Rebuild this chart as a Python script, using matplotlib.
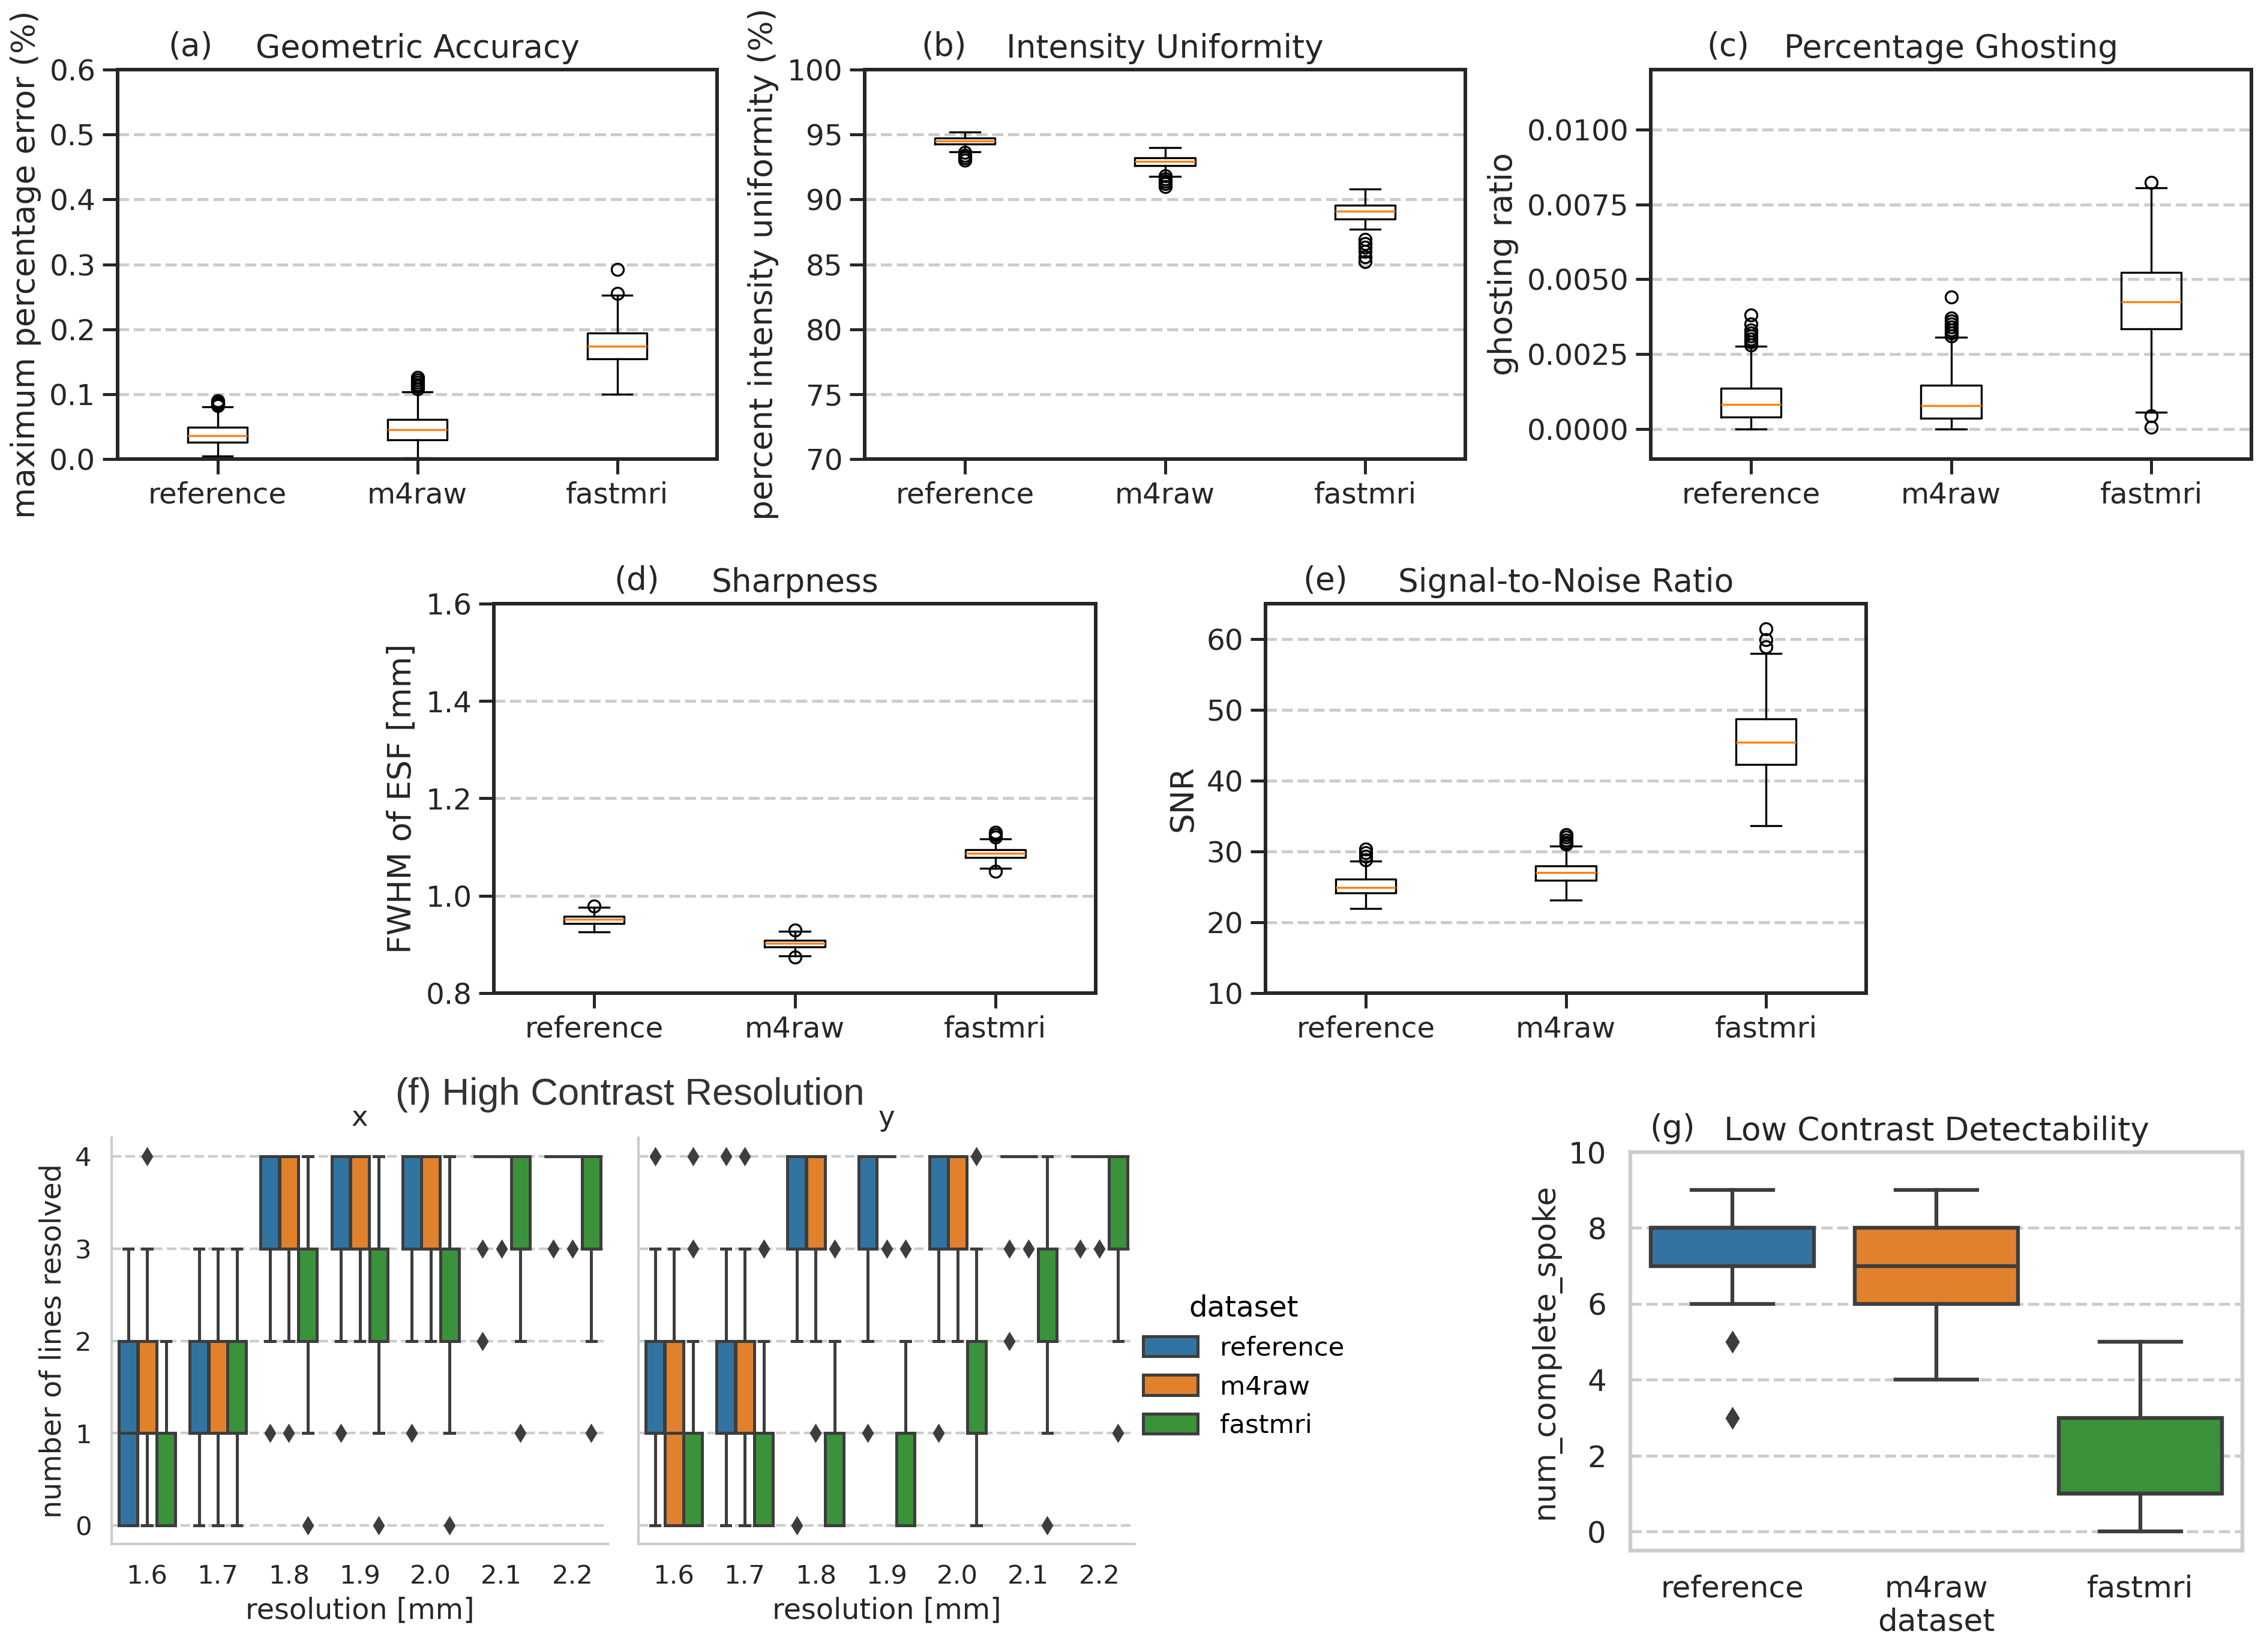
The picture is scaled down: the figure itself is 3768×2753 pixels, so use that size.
import numpy as np
import matplotlib.pyplot as plt
from matplotlib.patches import Patch
from matplotlib.ticker import FormatStrFormatter

W, H, DPI = 3768, 2753, 240

datasets = ["reference", "m4raw", "fastmri"]
colors = ["#3274a1", "#e1812c", "#3a923a"]
resolutions = ["1.6", "1.7", "1.8", "1.9", "2.0", "2.1", "2.2"]

# box stats as (q1, median, q3, whisker low, whisker high), one per dataset
geo_stats = [(0.0255, 0.0356, 0.049, 0.005, 0.080), (0.030, 0.045, 0.061, 0.002, 0.1035), (0.154, 0.174, 0.194, 0.100, 0.252)]
geo_fliers = [[0.082, 0.084, 0.086, 0.088, 0.090], [0.108, 0.112, 0.115, 0.118, 0.122, 0.126], [0.255, 0.292]]

iu_stats = [(94.27, 94.48, 94.72, 93.69, 95.2), (92.6, 92.94, 93.21, 91.75, 94.0), (88.49, 89.07, 89.55, 87.72, 90.82)]
iu_fliers = [[93.0, 93.2, 93.4, 93.6], [91.0, 91.2, 91.4, 91.6, 91.8], [85.2, 85.6, 86.0, 86.3, 86.6, 86.9]]

gh_stats = [(0.00041, 0.00082, 0.00137, 0.0, 0.00277), (0.00036, 0.00078, 0.00146, 0.0, 0.00307), (0.00335, 0.00425, 0.00523, 0.00056, 0.00806)]
gh_fliers = [[0.0028, 0.0029, 0.0030, 0.0031, 0.0032, 0.0033, 0.0035, 0.0038],
             [0.0031, 0.0032, 0.0033, 0.0034, 0.0035, 0.0036, 0.0037, 0.0044],
             [0.00823, 0.00045, 0.00007]]

sh_stats = [(0.9436, 0.9516, 0.958, 0.9255, 0.976), (0.8948, 0.902, 0.908, 0.8768, 0.9269), (1.079, 1.087, 1.095, 1.057, 1.117)]
sh_fliers = [[0.979], [0.930, 0.8735], [1.121, 1.126, 1.130, 1.050]]

snr_stats = [(24.13, 24.91, 26.06, 21.97, 28.62), (25.92, 27.02, 27.98, 23.17, 30.73), (42.25, 45.41, 48.76, 33.62, 57.98)]
snr_fliers = [[28.8, 29.3, 29.8, 30.3], [31.0, 31.3, 31.6, 32.0, 32.4], [58.9, 59.9, 61.4]]

# high contrast resolution, per resolution 1.6 ... 2.2
hcr_x_ref = [(0, 1, 2, 0, 3), (1, 1, 2, 0, 3), (3, 4, 4, 2, 4), (3, 4, 4, 2, 4), (3, 4, 4, 2, 4), (4, 4, 4, 4, 4), (4, 4, 4, 4, 4)]
hcr_x_ref_fl = [[], [], [1], [1], [1], [2, 3], [3]]
hcr_x_m4raw = [(1, 1, 2, 0, 3), (1, 1, 2, 0, 3), (3, 4, 4, 2, 4), (3, 4, 4, 2, 4), (3, 4, 4, 2, 4), (4, 4, 4, 4, 4), (4, 4, 4, 4, 4)]
hcr_x_m4raw_fl = [[4], [], [1], [], [], [3], [3]]
hcr_x_fastmri = [(0, 1, 1, 0, 2), (1, 1, 2, 0, 3), (2, 3, 3, 1, 4), (2, 3, 3, 1, 4), (2, 3, 3, 1, 4), (3, 4, 4, 2, 4), (3, 4, 4, 2, 4)]
hcr_x_fastmri_fl = [[], [], [0], [0], [0], [1], [1]]

hcr_y_ref = [(1, 1, 2, 0, 3), (1, 1, 2, 0, 3), (3, 4, 4, 2, 4), (3, 4, 4, 2, 4), (3, 4, 4, 2, 4), (4, 4, 4, 4, 4), (4, 4, 4, 4, 4)]
hcr_y_ref_fl = [[4], [4], [0], [1], [1], [2, 3], [3]]
hcr_y_m4raw = [(0, 1, 2, 0, 3), (1, 1, 2, 0, 3), (3, 4, 4, 2, 4), (4, 4, 4, 4, 4), (3, 4, 4, 2, 4), (4, 4, 4, 4, 4), (4, 4, 4, 4, 4)]
hcr_y_m4raw_fl = [[], [4], [1], [3], [], [3], [3]]
hcr_y_fastmri = [(0, 1, 1, 0, 2), (0, 1, 1, 0, 2), (0, 1, 1, 0, 2), (0, 1, 1, 0, 2), (1, 2, 2, 0, 3), (2, 3, 3, 1, 4), (3, 4, 4, 2, 4)]
hcr_y_fastmri_fl = [[3, 4], [3], [3], [3], [4], [0], [1]]

lcd_stats = [(7, 8, 8, 6, 9), (6, 7, 8, 4, 9), (1, 1, 3, 0, 5)]
lcd_fliers = [[5, 3], [], []]

TXT = "#262626"
GRAY = "#3d3d3d"
LIGHT = "#cccccc"


def to_stats(stats, fliers):
    return [dict(q1=s[0], med=s[1], q3=s[2], whislo=s[3], whishi=s[4], fliers=f)
            for s, f in zip(stats, fliers)]


def px_rect(left, top, right, bottom):
    return [left / W, 1 - bottom / H, (right - left) / W, (bottom - top) / H]


fig = plt.figure(figsize=(W / DPI, H / DPI), dpi=DPI)


def classic_panel(rect, stats, fliers, ylim, yticks, ylabel, title, letter, letter_x, fmt=None):
    ax = fig.add_axes(rect)
    ax.bxp(to_stats(stats, fliers), positions=[1, 2, 3], widths=0.3,
           flierprops=dict(marker="o", markerfacecolor="none", markeredgecolor="k", markersize=6),
           medianprops=dict(color="#ff7f0e"))
    ax.set_xlim(0.5, 3.5)
    ax.set_ylim(ylim)
    ax.set_yticks(yticks)
    if fmt:
        ax.yaxis.set_major_formatter(FormatStrFormatter(fmt))
    ax.set_xticks([1, 2, 3], datasets)
    ax.yaxis.grid(True, ls="--", color=LIGHT, lw=1.5)
    ax.set_axisbelow(True)
    for sp in ax.spines.values():
        sp.set_linewidth(1.8)
        sp.set_color(TXT)
    ax.tick_params(length=7.5, width=1.5, labelsize=14.5, colors=TXT)
    ax.set_ylabel(ylabel, fontsize=16, color=TXT)
    ax.set_title(title, fontsize=16, color=TXT)
    ax.text(letter_x, 1.036, letter, transform=ax.transAxes, ha="center", va="baseline",
            fontsize=16, color=TXT)
    return ax


classic_panel(px_rect(196, 116, 1195, 765), geo_stats, geo_fliers, (0, 0.6), np.arange(0, 0.61, 0.1),
              "maximum percentage error (%)", "Geometric Accuracy", "(a)", 0.122, "%.1f")
classic_panel(px_rect(1441, 116, 2442, 765), iu_stats, iu_fliers, (70, 100), np.arange(70, 101, 5),
              "percent intensity uniformity (%)", "Intensity Uniformity", "(b)", 0.132)
classic_panel(px_rect(2751, 116, 3752, 765), gh_stats, gh_fliers, (-0.001, 0.012), np.arange(0, 0.0101, 0.0025),
              "ghosting ratio", "Percentage Ghosting", "(c)", 0.129, "%.4f")
classic_panel(px_rect(823, 1006, 1826, 1655), sh_stats, sh_fliers, (0.8, 1.6), np.arange(0.8, 1.61, 0.2),
              "FWHM of ESF [mm]", "Sharpness", "(d)", 0.237, "%.1f")
classic_panel(px_rect(2109, 1006, 3110, 1655), snr_stats, snr_fliers, (10, 65), np.arange(10, 61, 10),
              "SNR", "Signal-to-Noise Ratio", "(e)", 0.10)


def hcr_panel(rect, groups, title, first):
    ax = fig.add_axes(rect)
    for h, ((stats, fl), color) in enumerate(zip(groups, colors)):
        pos = np.arange(len(resolutions)) + (h - 1) * 0.8 / 3
        ax.bxp(to_stats(stats, fl), positions=pos, widths=0.8 / 3 * 0.98, patch_artist=True,
               boxprops=dict(facecolor=color, edgecolor=GRAY, lw=1.5),
               whiskerprops=dict(color=GRAY, lw=1.5), capprops=dict(color=GRAY, lw=1.5),
               medianprops=dict(color=GRAY, lw=1.5),
               flierprops=dict(marker="d", markerfacecolor=GRAY, markeredgecolor=GRAY, markersize=5.5),
               manage_ticks=False)
    ax.set_xlim(-0.5, len(resolutions) - 0.5)
    ax.set_ylim(-0.2, 4.2)
    ax.set_xticks(range(len(resolutions)), resolutions)
    ax.set_yticks(range(5))
    ax.yaxis.grid(True, ls="--", color=LIGHT, lw=1.3)
    ax.set_axisbelow(True)
    for k in ("top", "right"):
        ax.spines[k].set_visible(False)
    for k in ("left", "bottom"):
        ax.spines[k].set_color(LIGHT)
        ax.spines[k].set_linewidth(1.3)
    ax.tick_params(length=0, pad=10, labelsize=13, colors=TXT)
    ax.set_xlabel("resolution [mm]", fontsize=14.3, color=TXT, labelpad=3.5)
    ax.set_title(title, fontsize=14, color=TXT)
    if first:
        ax.set_ylabel("number of lines resolved", fontsize=14.3, color=TXT)
    else:
        ax.tick_params(labelleft=False)
    return ax


hcr_panel(px_rect(186, 1896, 1013, 2573),
          [(hcr_x_ref, hcr_x_ref_fl), (hcr_x_m4raw, hcr_x_m4raw_fl), (hcr_x_fastmri, hcr_x_fastmri_fl)], "x", True)
hcr_panel(px_rect(1064, 1896, 1891, 2573),
          [(hcr_y_ref, hcr_y_ref_fl), (hcr_y_m4raw, hcr_y_m4raw_fl), (hcr_y_fastmri, hcr_y_fastmri_fl)], "y", False)
fig.text(1050 / W, 1 - 1824 / H, "(f) High Contrast Resolution", ha="center", va="center",
         fontsize=19, family=["Liberation Sans", "DejaVu Sans"], color="#333333")

handles = [Patch(facecolor=c, edgecolor=GRAY, lw=1.5) for c in colors]
fig.legend(handles, datasets, title="dataset", frameon=False, fontsize=13, title_fontsize=14.5,
           loc="upper left", bbox_to_anchor=(1905 / W, 1 - 2156 / H), borderpad=0, borderaxespad=0,
           handlelength=2.1, handleheight=0.8, handletextpad=0.85, labelspacing=0.52)

# (g) low contrast detectability
ax = fig.add_axes(px_rect(2717, 1920, 3737, 2584))
for i, (s, color) in enumerate(zip(to_stats(lcd_stats, lcd_fliers), colors)):
    ax.bxp([s], positions=[i], widths=0.8, patch_artist=True,
           boxprops=dict(facecolor=color, edgecolor=GRAY, lw=1.9),
           whiskerprops=dict(color=GRAY, lw=1.9), capprops=dict(color=GRAY, lw=1.9),
           medianprops=dict(color=GRAY, lw=1.9),
           flierprops=dict(marker="d", markerfacecolor=GRAY, markeredgecolor=GRAY, markersize=7),
           manage_ticks=False)
ax.set_xlim(-0.5, 2.5)
ax.set_ylim(-0.5, 10)
ax.set_xticks(range(3), datasets)
ax.set_yticks(range(0, 11, 2))
ax.yaxis.grid(True, ls="--", color=LIGHT, lw=1.5)
ax.set_axisbelow(True)
for sp in ax.spines.values():
    sp.set_color(LIGHT)
    sp.set_linewidth(1.9)
ax.tick_params(length=0, pad=12, labelsize=15, colors=TXT)
ax.set_xlabel("dataset", fontsize=15.5, color=TXT, labelpad=2)
ax.set_ylabel("num_complete_spoke", fontsize=15.5, color=TXT)
ax.set_title("Low Contrast Detectability", fontsize=16, color=TXT)
ax.text(0.0686, 1.036, "(g)", transform=ax.transAxes, ha="center", va="baseline", fontsize=16, color=TXT)

fig.savefig("out.png", dpi=DPI)
